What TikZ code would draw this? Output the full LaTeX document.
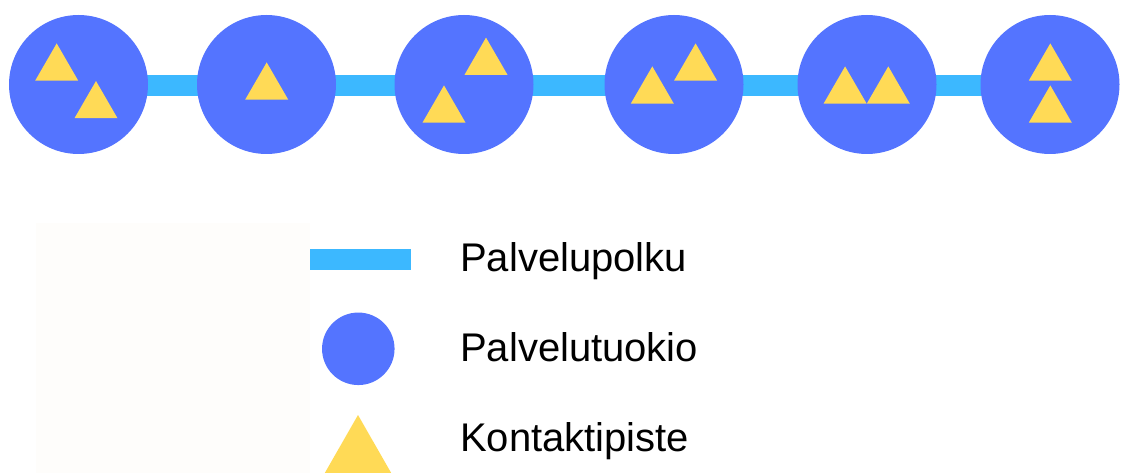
\documentclass[tikz,border=0pt]{standalone}
\usepackage{fontspec}
\setmainfont{Liberation Sans}
\usetikzlibrary{backgrounds}
\definecolor{circcol}{RGB}{84,116,255}
\definecolor{barcol}{RGB}{60,184,255}
\definecolor{tricol}{RGB}{255,218,86}
\definecolor{legbg}{RGB}{254,253,251}
\tikzset{
  objcirc/.style={circle, fill=circcol, inner sep=0pt, minimum size=139pt},
  legcirc/.style={circle, fill=circcol, inner sep=0pt, minimum size=72.5pt},
  pathbar/.style={barcol, line width=21pt},
  legtext/.style={anchor=base west, inner sep=0pt, font=\fontsize{40}{48}\selectfont, text=black},
  tri/.pic={\fill[tricol] (0,0) -- (-21.5,37.2) -- (21.5,37.2) -- cycle;}
}
\begin{document}
\begin{tikzpicture}[x=1pt,y=-1pt]
\clip (0,0) rectangle (1122,473);
\fill[legbg] (36,223) rectangle (310,473);
% service objects
\node[objcirc] (c1) at (78.5,84.5) {};
\node[objcirc] (c2) at (266.5,84.5) {};
\node[objcirc] (c3) at (464,84.5) {};
\node[objcirc] (c4) at (674,84.5) {};
\node[objcirc] (c5) at (867,84.5) {};
\node[objcirc] (c6) at (1050,84.5) {};
\begin{scope}[on background layer]
\draw[pathbar] ([yshift=-1.5pt]c1.center) -- ([yshift=-1.5pt]c6.center);
\end{scope}
% contact points
\pic at (56.7,43.4) {tri};
\pic at (96,81) {tri};
\pic at (266.7,62.4) {tri};
\pic at (486,37.6) {tri};
\pic at (444,85.4) {tri};
\pic at (652.3,66.4) {tri};
\pic at (695.6,43.4) {tri};
\pic at (845.1,66.4) {tri};
\pic at (888.3,66.4) {tri};
\pic at (1050.3,43.4) {tri};
\pic at (1050.3,85.4) {tri};
% legend
\coordinate (lb1) at (310,259.7);
\coordinate (lb2) at (410.7,259.7);
\draw[pathbar] (lb1) -- (lb2);
\node[legcirc] (lc) at (358.3,348.8) {};
\fill[tricol] (358,415) -- (324.5,473.5) -- (391.5,473.5) -- cycle;
\node[legtext] (t1) at (460,271.7) {Palvelupolku};
\node[legtext] (t2) at (460,361.7) {Palvelutuokio};
\node[legtext] (t3) at (460,451.7) {Kontaktipiste};
\end{tikzpicture}
\end{document}
